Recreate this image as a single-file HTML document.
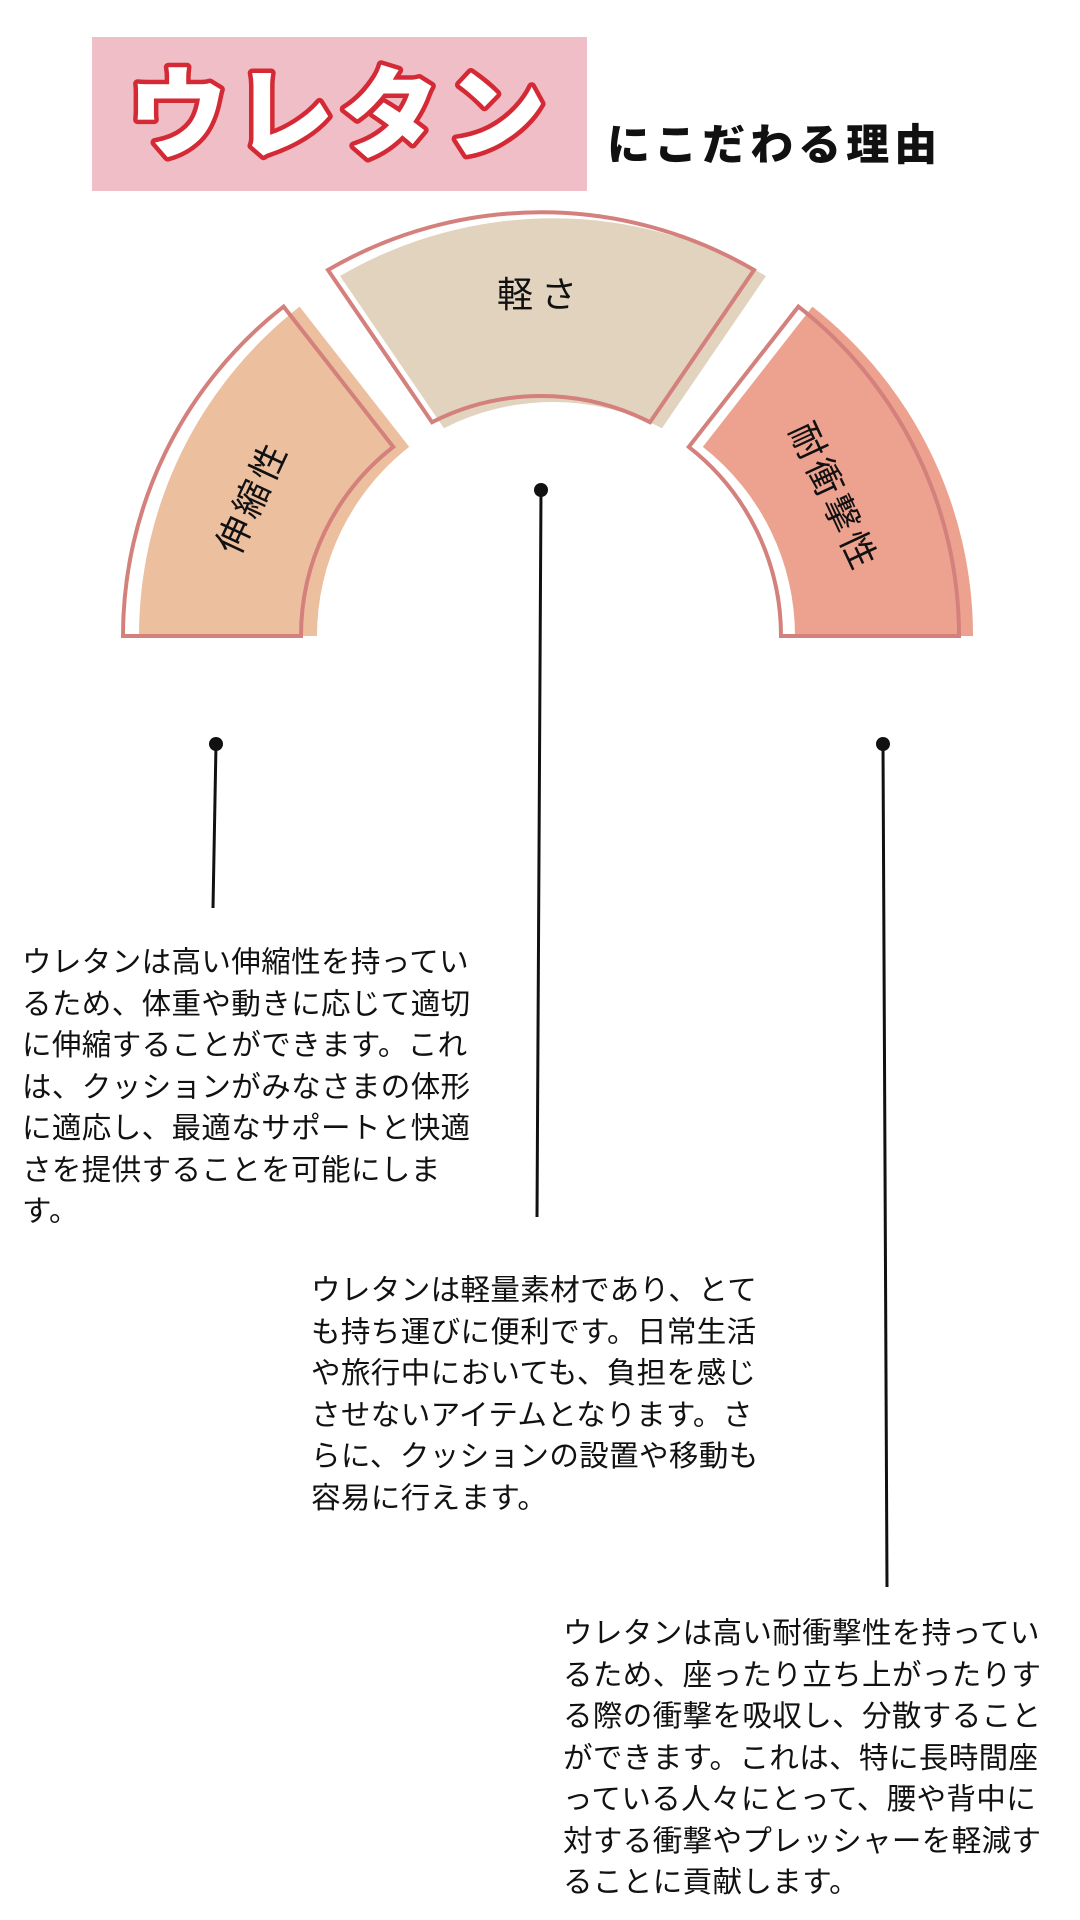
<!DOCTYPE html>
<html><head><meta charset="utf-8"><style>
body{margin:0;width:1080px;height:1920px;background:#fff;position:relative;overflow:hidden;font-family:"Liberation Sans","Noto Sans CJK JP",sans-serif;}
.p{position:absolute;font-size:29.5px;line-height:41.5px;letter-spacing:0.4px;color:#111;white-space:nowrap;}
</style></head><body>
<svg width="1080" height="1920" style="position:absolute;left:0;top:0">
<rect x="92" y="37" width="495" height="154" fill="#efbec6"/>
<text x="340" y="150" text-anchor="middle" font-family="Noto Sans CJK JP, sans-serif" font-weight="900" font-size="100" letter-spacing="6" fill="#fff" stroke="#d42a35" stroke-width="9" paint-order="stroke" stroke-linejoin="round">ウレタン</text>
<text x="607" y="160" font-family="Noto Sans CJK JP, sans-serif" font-weight="900" font-size="43" letter-spacing="5" fill="#111">にこだわる理由</text>
<g transform="translate(16,0)"><path d="M123,636 A418,418 0 0 1 283.6,306.6 L393.2,446.9 A240,240 0 0 0 301,636 Z" fill="#ecbf9f"/></g>
<path d="M123,636 A418,418 0 0 1 283.6,306.6 L393.2,446.9 A240,240 0 0 0 301,636 Z" fill="none" stroke="#d4807c" stroke-width="4"/>
<g transform="translate(12,6)"><path d="M328,270 A422 422 0 0 1 754,270 L650,422.2 A240 240 0 0 0 432,422.2 Z" fill="#e2d3bf"/></g>
<path d="M328,270 A422 422 0 0 1 754,270 L650,422.2 A240 240 0 0 0 432,422.2 Z" fill="none" stroke="#d4807c" stroke-width="4"/>
<g transform="translate(14,0)"><path d="M798.4,306.6 A418 418 0 0 1 959,636 L781,636 A240 240 0 0 0 688.8,446.9 Z" fill="#eda28f"/></g>
<path d="M798.4,306.6 A418 418 0 0 1 959,636 L781,636 A240 240 0 0 0 688.8,446.9 Z" fill="none" stroke="#d4807c" stroke-width="4"/>
<text x="541" y="307" text-anchor="middle" font-family="Noto Sans CJK JP, sans-serif" font-size="36" letter-spacing="8" fill="#111">軽さ</text>
<text transform="translate(252,497) rotate(-65)" text-anchor="middle" y="13" font-family="Noto Sans CJK JP, sans-serif" font-size="36" letter-spacing="4" fill="#111">伸縮性</text>
<text transform="translate(834,497) rotate(65)" text-anchor="middle" y="13" font-family="Noto Sans CJK JP, sans-serif" font-size="36" letter-spacing="4" fill="#111">耐衝撃性</text>
<line x1="541" y1="490" x2="537" y2="1217" stroke="#111" stroke-width="3"/><circle cx="541" cy="490" r="7" fill="#111"/>
<line x1="216" y1="744" x2="213" y2="908" stroke="#111" stroke-width="3"/><circle cx="216" cy="744" r="7" fill="#111"/>
<line x1="883" y1="744" x2="887" y2="1587" stroke="#111" stroke-width="3"/><circle cx="883" cy="744" r="7" fill="#111"/>
</svg>
<div class="p" style="left:22px;top:942px">ウレタンは高い伸縮性を持ってい<br>るため、体重や動きに応じて適切<br>に伸縮することができます。これ<br>は、クッションがみなさまの体形<br>に適応し、最適なサポートと快適<br>さを提供することを可能にしま<br>す。</div>
<div class="p" style="left:311px;top:1270px">ウレタンは軽量素材であり、とて<br>も持ち運びに便利です。日常生活<br>や旅行中においても、負担を感じ<br>させないアイテムとなります。さ<br>らに、クッションの設置や移動も<br>容易に行えます。</div>
<div class="p" style="left:563px;top:1613px">ウレタンは高い耐衝撃性を持ってい<br>るため、座ったり立ち上がったりす<br>る際の衝撃を吸収し、分散すること<br>ができます。これは、特に長時間座<br>っている人々にとって、腰や背中に<br>対する衝撃やプレッシャーを軽減す<br>ることに貢献します。</div>
</body></html>
